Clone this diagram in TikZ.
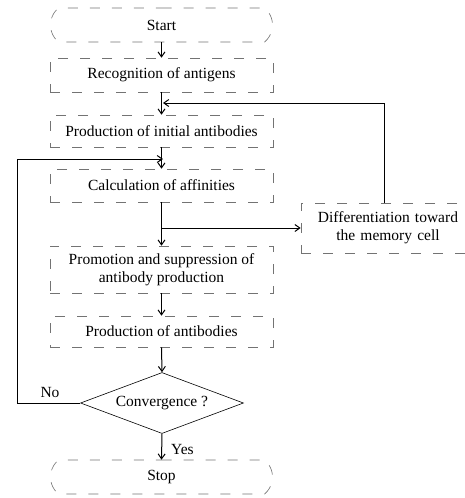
\documentclass[tikz,border=0pt]{standalone}
\usepackage{fontspec}
\setmainfont{Liberation Serif}
\usetikzlibrary{arrows.meta,shapes.misc,shapes.geometric}
\begin{document}
\begin{tikzpicture}[x=1pt,y=-1pt,
  every node/.style={font=\fontsize{15.5}{18}\selectfont, inner sep=0pt},
  procbox/.style={draw=black!55, dash pattern=on 10pt off 12pt, line width=0.6pt, minimum width=223pt, align=center},
  termbox/.style={rounded rectangle, draw=black!55, dash pattern=on 10pt off 12pt, line width=0.6pt, minimum width=222pt, minimum height=34pt, rounded rectangle arc length=100},
  decbox/.style={diamond, draw, line width=0.6pt, aspect=2.7, minimum width=163pt, minimum height=61pt},
  flow/.style={-{Straight Barb[length=5pt,width=7pt]}, line width=1pt},
  plain/.style={line width=1pt}
]
\useasboundingbox (0,0) rectangle (464,498);
\node[termbox] (start) at (161.5,25) {Start};
\node[procbox, minimum height=34pt] (rec) at (161.5,75) {Recognition of antigens};
\node[procbox, minimum height=32pt] (pia) at (161.5,131) {Production of initial antibodies};
\node[procbox, minimum height=33pt] (calc) at (161.5,185.5) {Calculation of affinities};
\node[procbox, minimum height=47pt] (prom) at (161.5,269.5) {Promotion and suppression of\\antibody production};
\node[procbox, minimum height=31pt] (pab) at (161.5,331.5) {Production of antibodies};
\node[decbox] (conv) at (162,403) {Convergence ?};
\node[termbox] (stop) at (161.5,477) {Stop};
\node[procbox, minimum width=174pt, minimum height=50pt, text width=168pt] (diff) at (388,228) {Differentiation toward\\the memory cell};

\coordinate (fb1) at (163,103);
\coordinate (fb2) at (163,159);
\coordinate (lft) at (17,403);
\coordinate (br) at (161.5,228);

\draw[flow] (start.south) -- (rec.north);
\draw[flow] (rec.south) -- (pia.north);
\draw[flow] (pia.south) -- (calc.north);
\draw[flow] (calc.south) -- (prom.north);
\draw[flow] (br) -- (diff.west);
\draw[flow] (prom.south) -- (pab.north);
\draw[flow] (pab.south) -- (conv.north);
\draw[flow] (conv.south) -- node[right=9pt, pos=0.6] {Yes} (stop.north);
\draw[flow] (384,203) |- (fb1);
\draw[flow] (conv.west) -- (lft) |- (fb2);
\node (no) at (50,392) {No};
\end{tikzpicture}
\end{document}
